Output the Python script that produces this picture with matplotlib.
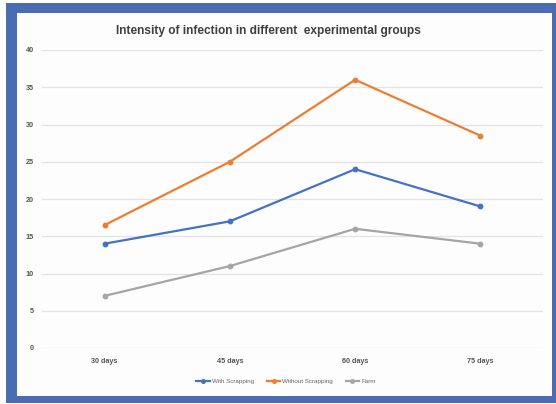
import matplotlib
matplotlib.use("Agg")
import matplotlib.pyplot as plt
from matplotlib.patches import Rectangle

categories = ["30 days", "45 days", "60 days", "75 days"]
with_scrapping = [14, 17, 24, 19]
without_scrapping = [16.5, 25, 36, 28.5]
farm = [7, 11, 16, 14]
y_ticks = [0, 5, 10, 15, 20, 25, 30, 35, 40]

W, H = 556, 404
fig = plt.figure(figsize=(W / 100, H / 100), dpi=100)
fig.patch.set_facecolor("white")

# blue frame around the chart
frame_blue = "#4A6CB3"
fig.patches.append(Rectangle((6 / W, 1 - 403 / H), (W - 6) / W, 400 / H,
                             transform=fig.transFigure, facecolor=frame_blue,
                             edgecolor="none", zorder=-10))
fig.patches.append(Rectangle((17 / W, 1 - 396 / H), (552 - 17) / W, (396 - 13) / H,
                             transform=fig.transFigure, facecolor="#FDFDFD",
                             edgecolor="none", zorder=-9))

ax = fig.add_axes([42 / W, 1 - 348 / H, (543 - 42) / W, (348 - 50) / H])
ax.set_facecolor("none")

x = list(range(len(categories)))
series = [
    ("With Scrapping", with_scrapping, "#4472C4"),
    ("Without Scrapping", without_scrapping, "#ED7D31"),
    ("Farm", farm, "#A5A5A5"),
]
for name, vals, col in series:
    ax.plot(x, vals, color=col, lw=1.6, marker="o", ms=3.2, label=name, zorder=3)

ax.set_xlim(-0.5, len(categories) - 0.5)
ax.set_ylim(0, 40)
ax.set_yticks(y_ticks)
ax.set_xticks(x)
ax.set_xticklabels(categories)
ax.grid(axis="y", color="#E3E3E3", lw=0.9)
ax.set_axisbelow(True)
for s in ax.spines.values():
    s.set_visible(False)
ax.tick_params(length=0, labelsize=5.2, labelcolor="#555555")
ax.tick_params(axis="x", pad=7)
ax.tick_params(axis="y", pad=6)
for lab in ax.get_xticklabels() + ax.get_yticklabels():
    lab.set_fontweight("bold")
    lab.set_fontfamily("Liberation Sans")

fig.text(268 / W, 1 - 31 / H, "Intensity of infection in different  experimental groups",
         ha="center", va="center", fontsize=8.6, fontweight="bold",
         color="#404040", family="Liberation Sans")

leg = fig.legend(loc="center", bbox_to_anchor=(286 / W, 1 - 381 / H), ncol=3,
                 frameon=False, fontsize=4.5, handlelength=2.2, columnspacing=2.0,
                 handletextpad=0.3, markerscale=0.8)
for t in leg.get_texts():
    t.set_color("#666666")
    t.set_fontfamily("Liberation Sans")

fig.savefig("out.png", dpi=100)
